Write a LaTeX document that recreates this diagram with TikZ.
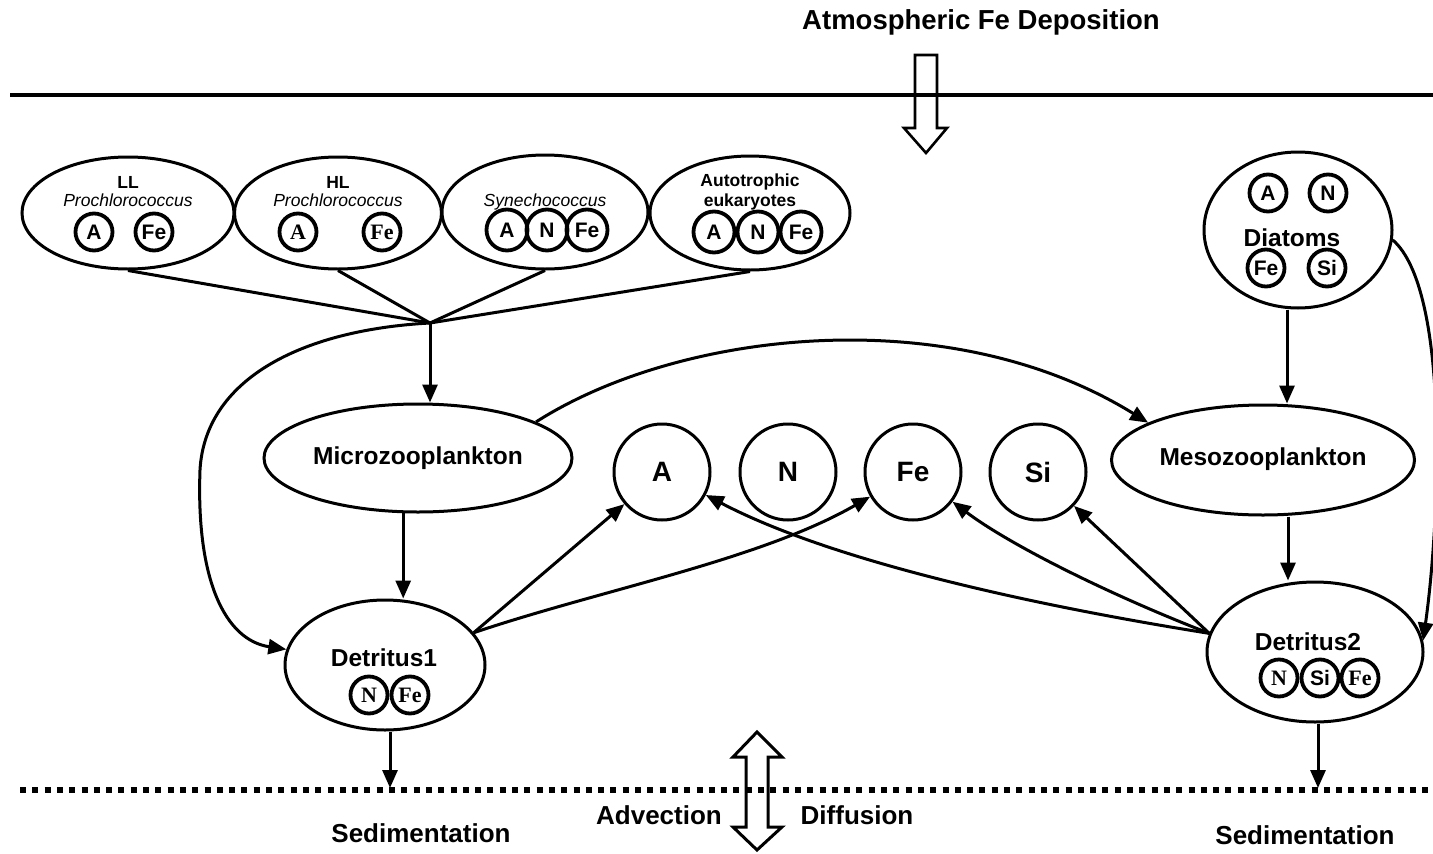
\documentclass[tikz,border=0pt]{standalone}
\usepackage{fontspec}
\setmainfont{Liberation Sans}
\newfontfamily\tnr{Liberation Serif}
\usetikzlibrary{shapes.geometric,arrows.meta}
\newcommand{\fsz}[1]{\fontsize{#1}{#1}\selectfont}
\begin{document}
\begin{tikzpicture}[x=1pt,y=-1pt,
  ell/.style={draw, ellipse, line width=3pt, inner sep=0pt},
  sc/.style={draw, circle, line width=3.8pt, minimum size=37pt, inner sep=0pt, font=\bfseries\fsz{21}},
  scr/.style={sc, font=\tnr\bfseries\fsz{22}},
  bc/.style={draw, circle, line width=3pt, minimum size=96pt, inner sep=0pt, font=\bfseries\fsz{28}},
  ln/.style={line width=3pt},
  arr/.style={ln, -{Triangle[length=18pt,width=15pt]}},
  lbl/.style={font=\bfseries\fsz{26}},
  nm/.style={font=\bfseries\fsz{24.5}},
  sm/.style={font=\bfseries\fsz{17.5}, inner sep=0pt},
  smi/.style={font=\itshape\fsz{17.5}, inner sep=0pt},
  hollow/.style={line width=2.6pt, line join=miter},
]
\useasboundingbox (0,0) rectangle (1433,854);

% surface and title
\node[lbl, font=\bfseries\fsz{27.5}] (title) at (981,22) {Atmospheric Fe Deposition};
\coordinate (surfL) at (10,95);
\coordinate (surfR) at (1433,95);
\draw[line width=3.4pt] (surfL) -- (surfR);
\draw[hollow] (915,55) -- (937,55) -- (937,128) -- (947,128) -- (926,153) -- (904,128) -- (915,128) -- cycle;

% phytoplankton
\node[ell, minimum width=212pt, minimum height=112pt] (ll) at (128,213) {};
\node[sm] (llt) at (128,182) {LL};
\node[smi] (llp) at (128,200) {Prochlorococcus};
\node[sc] (llA) at (94,232) {A};
\node[sc] (llF) at (154,232) {Fe};

\node[ell, minimum width=207pt, minimum height=112pt] (hl) at (338,213) {};
\node[sm] (hlt) at (338,182) {HL};
\node[smi] (hlp) at (338,200) {Prochlorococcus};
\node[scr] (hlA) at (298,232) {A};
\node[scr] (hlF) at (382,232) {Fe};

\node[ell, minimum width=206pt, minimum height=114pt] (syn) at (545,212) {};
\node[smi] (synt) at (545,202) {Synechococcus};
\node[sc, minimum size=41pt] (synA) at (507,230) {A};
\node[sc, minimum size=41pt] (synN) at (547,230) {N};
\node[sc, minimum size=41pt] (synF) at (587,230) {Fe};

\node[ell, minimum width=200pt, minimum height=114pt] (aut) at (750,213) {};
\node[sm] (autt) at (750,182) {Autotrophic};
\node[sm] (autu) at (750,202) {eukaryotes};
\node[sc, minimum size=41pt] (autA) at (714,232) {A};
\node[sc, minimum size=41pt] (autN) at (758,232) {N};
\node[sc, minimum size=41pt] (autF) at (801,232) {Fe};

\node[ell, minimum width=188pt, minimum height=156pt] (dia) at (1298,230) {};
\node[sc] (diaA) at (1268,193) {A};
\node[sc] (diaN) at (1328,193) {N};
\node[nm] (diat) at (1292,238) {Diatoms};
\node[sc] (diaF) at (1266,268) {Fe};
\node[sc] (diaS) at (1327,268) {Si};

% zooplankton
\node[ell, minimum width=308pt, minimum height=108pt] (micro) at (418,458) {};
\node[nm] (microt) at (418,458) {Microzooplankton};
\node[ell, minimum width=303pt, minimum height=110pt] (meso) at (1263,460) {};
\node[nm] (mesot) at (1263,459) {Mesozooplankton};

% nutrients
\node[bc] (cA) at (662,472) {A};
\node[bc] (cN) at (788,472) {N};
\node[bc] (cF) at (913,472) {Fe};
\node[bc] (cS) at (1038,472) {Si};

% detritus
\node[ell, minimum width=200pt, minimum height=130pt] (det1) at (385,665) {};
\node[nm] (det1t) at (384,658) {Detritus1};
\node[scr] (d1N) at (369,695) {N};
\node[scr] (d1F) at (410,695) {Fe};

\node[ell, minimum width=216pt, minimum height=140pt] (det2) at (1315,652) {};
\node[nm] (det2t) at (1308,642) {Detritus2};
\node[scr] (d2N) at (1279,678) {N};
\node[sc] (d2S) at (1320,678) {Si};
\node[scr] (d2F) at (1360,678) {Fe};

% grazing
\coordinate (conv) at (430,323);
\draw[ln] (ll.south) -- (conv);
\draw[ln] (hl.south) -- (conv);
\draw[ln] (syn.south) -- (conv);
\draw[ln] (aut.south) -- (conv);
\draw[arr] (conv) -- (conv |- micro.north);
\draw[arr] (conv) .. controls (300,330) and (205,380) .. (200,470)
  .. controls (196,580) and (225,640) .. (det1.171);
\draw[arr] (micro.17) .. controls (680,330) and (950,300) .. (meso.162);
\draw[arr] ([xshift=-11pt]dia.south) -- ([xshift=-11pt]dia.south |- meso.north);
\draw[arr] (dia.-6) .. controls (1450,290) and (1440,520) .. (det2.6);
\draw[arr] (micro.255) -- (micro.255 |- det1.north);
\draw[arr] ([xshift=25pt]meso.south) -- ([xshift=25pt]meso.south |- det2.north);

% remineralisation
\draw[arr] (det1.20) -- (cA);
\draw[arr] (det1.20) .. controls (600,590) and (760,560) .. (cF);
\draw[arr] (det2.170) .. controls (1000,600) and (820,555) .. (cA);
\draw[arr] (det2.170) .. controls (1110,595) and (1010,545) .. (cF);
\draw[arr] (det2.170) -- (cS);

% bottom boundary
\coordinate (botL) at (20,790);
\coordinate (botR) at (1433,790);
\draw[line width=6pt, dash pattern=on 6pt off 6.3pt] (botL) -- (botR);
\coordinate (sed1) at (390,788);
\coordinate (sed2) at (1318,788);
\draw[arr] (det1.south -| sed1) -- (sed1);
\draw[arr] (det2.south -| sed2) -- (sed2);
\draw[hollow, line width=3pt] (757,732) -- (782,757) -- (768,757) -- (768,827) -- (782,827) -- (757,850) -- (733,827) -- (746,827) -- (746,757) -- (733,757) -- cycle;
\node[lbl] (sedL) at (421,833) {Sedimentation};
\node[lbl] (adv) at (659,815) {Advection};
\node[lbl] (dif) at (857,815) {Diffusion};
\node[lbl] (sedR) at (1305,835) {Sedimentation};
\end{tikzpicture}
\end{document}
